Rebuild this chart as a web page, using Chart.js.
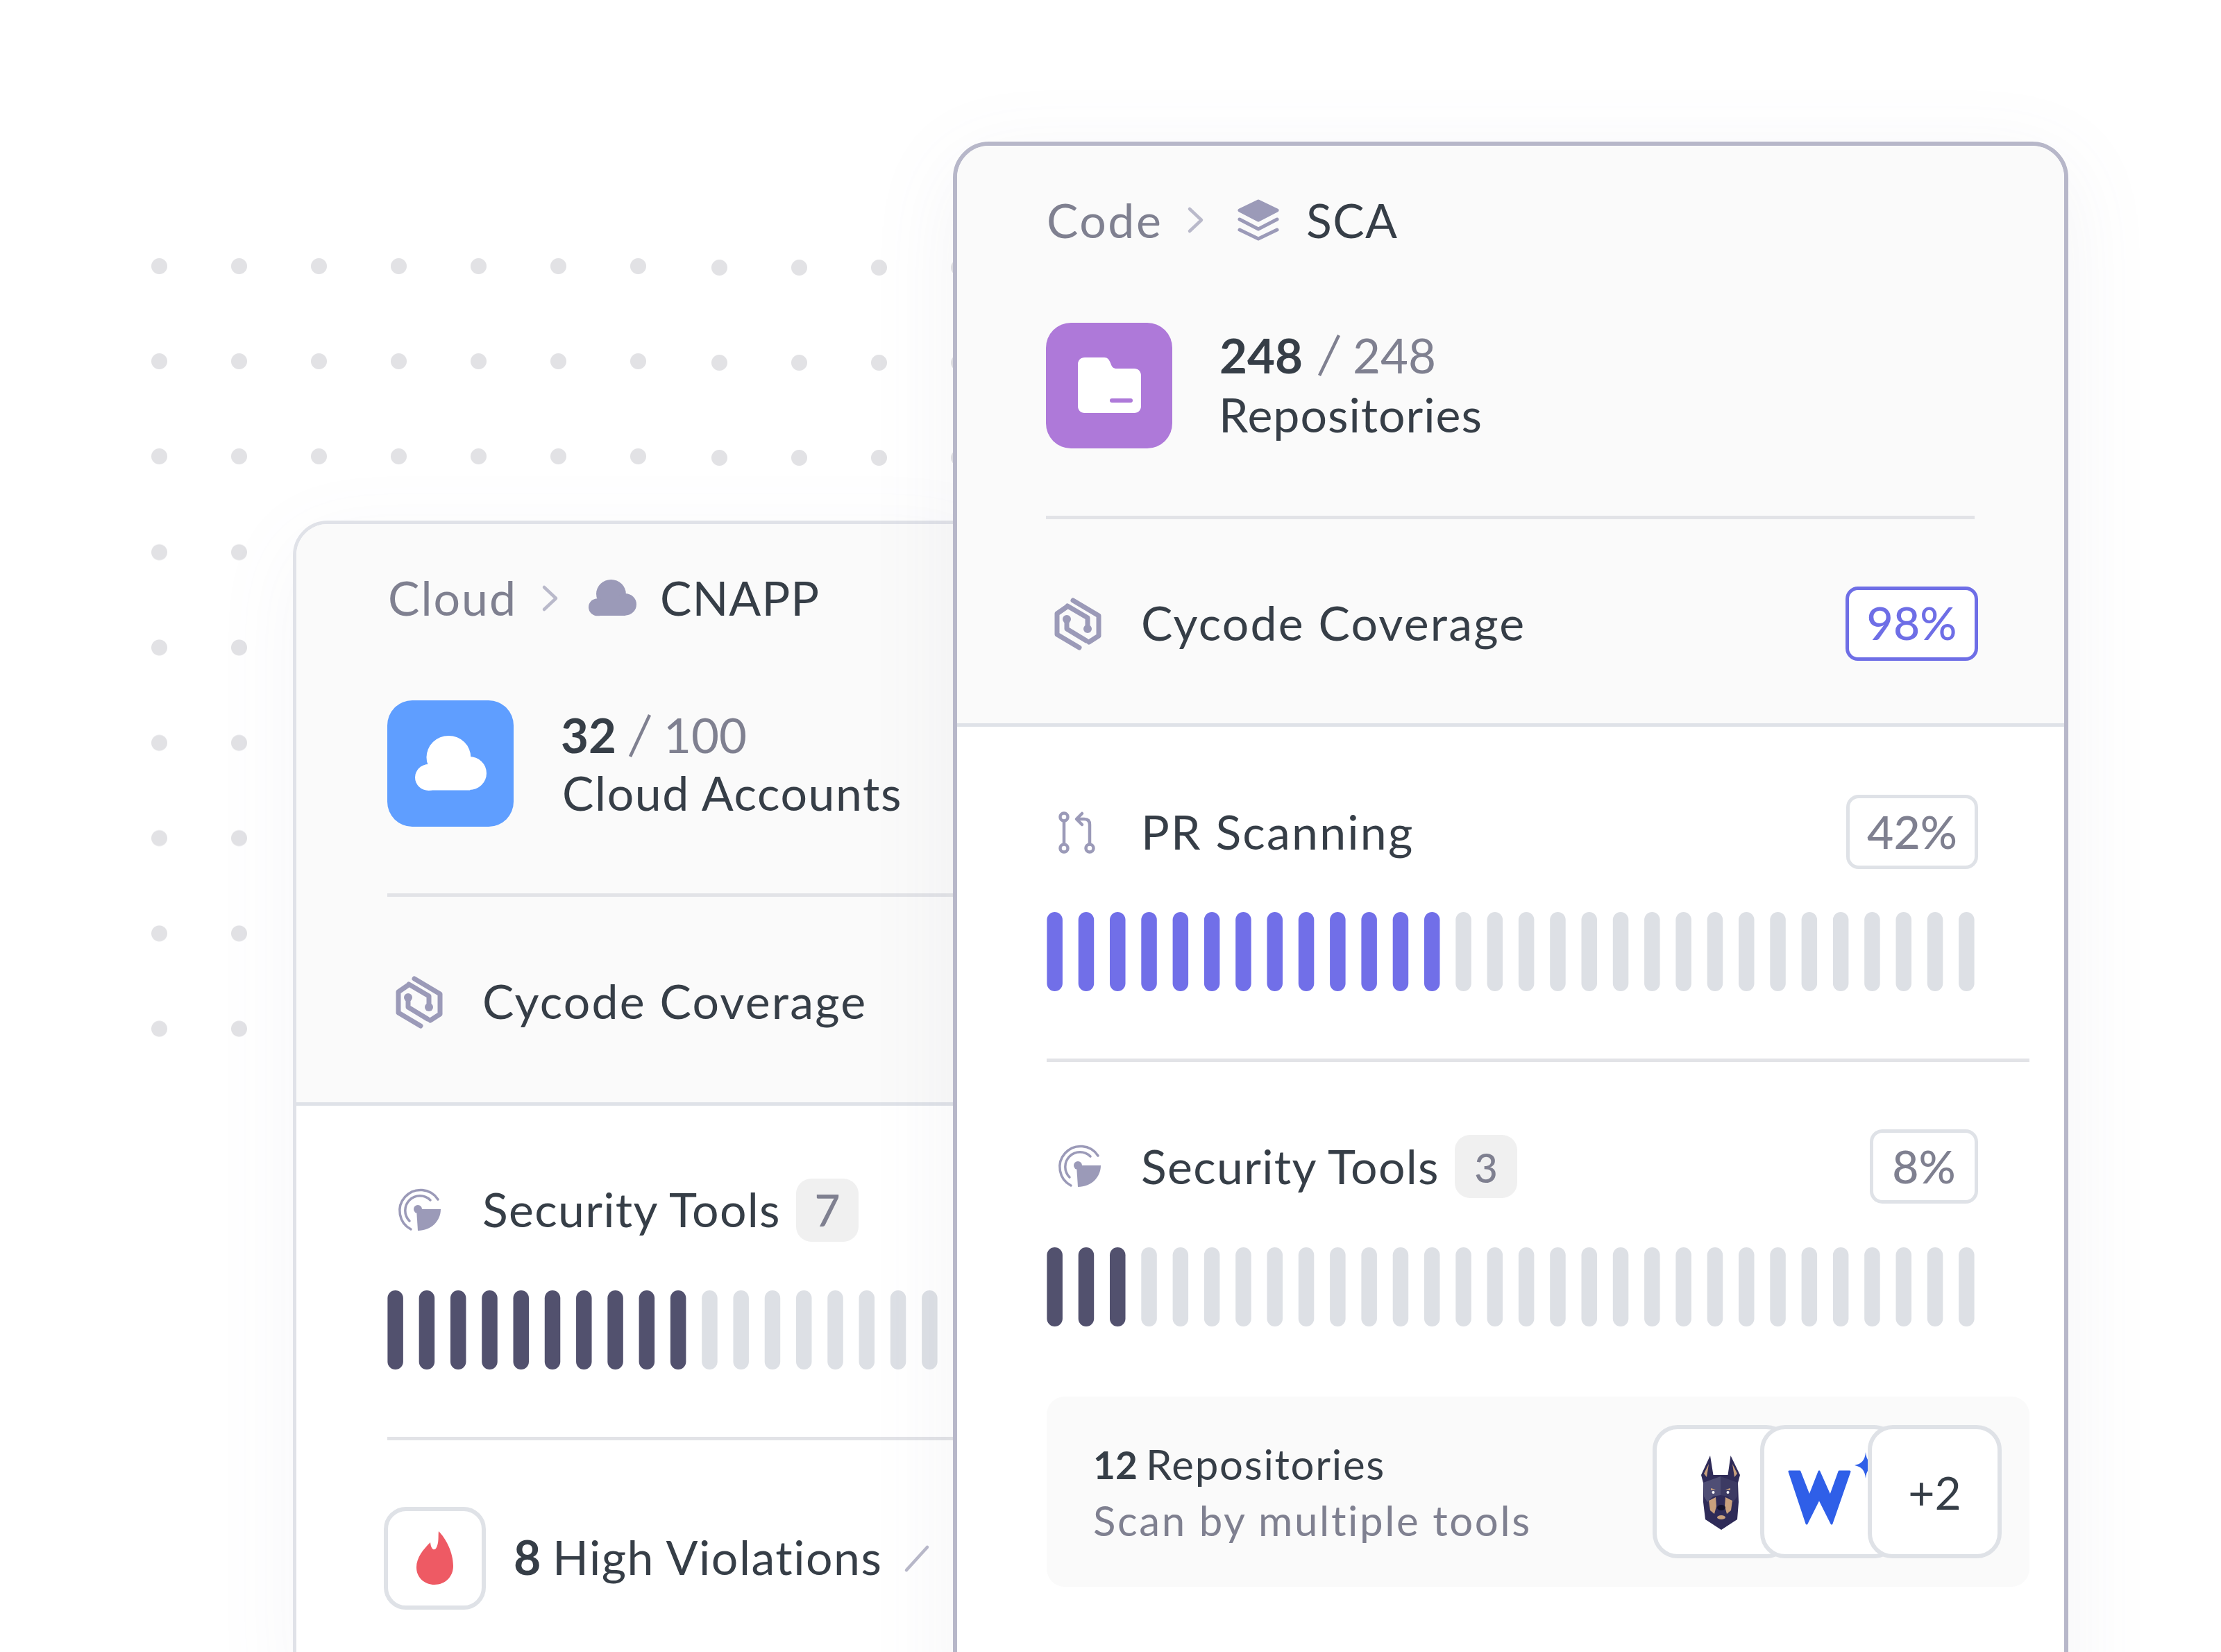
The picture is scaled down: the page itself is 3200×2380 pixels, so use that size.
<!DOCTYPE html>
<html>
<head>
<meta charset="utf-8">
<script src="https://cdn.jsdelivr.net/npm/chart.js@4"></script>
<style>
  html, body { margin: 0; background: #fff; }
  #stage { position: relative; width: 3200px; height: 2380px; overflow: hidden; background: #fff; font-family: Lato, sans-serif; }
  #stage > * { position: absolute; box-sizing: border-box; }
  .label { white-space: pre; line-height: 1; }
  .dots { background-image: radial-gradient(circle at center, #e2e2e5 0, #e2e2e5 11px, transparent 12px); }
</style>
</head>
<body>
<div id="stage"></div>
<script>
// ── values ──
const segments30 = ['1','2','3','4','5','6','7','8','9','10','11','12','13','14','15','16','17','18','19','20','21','22','23','24','25','26','27','28','29','30'];
const segments18 = ['1','2','3','4','5','6','7','8','9','10','11','12','13','14','15','16','17','18'];

const prScanningOn  = [1,1,1,1,1,1,1,1,1,1,1,1,1,0,0,0,0,0,0,0,0,0,0,0,0,0,0,0,0,0];
const prScanningOff = [0,0,0,0,0,0,0,0,0,0,0,0,0,1,1,1,1,1,1,1,1,1,1,1,1,1,1,1,1,1];
const scaToolsOn    = [1,1,1,0,0,0,0,0,0,0,0,0,0,0,0,0,0,0,0,0,0,0,0,0,0,0,0,0,0,0];
const scaToolsOff   = [0,0,0,1,1,1,1,1,1,1,1,1,1,1,1,1,1,1,1,1,1,1,1,1,1,1,1,1,1,1];
const cnappToolsOn  = [1,1,1,1,1,1,1,1,1,1,0,0,0,0,0,0,0,0];
const cnappToolsOff = [0,0,0,0,0,0,0,0,0,0,1,1,1,1,1,1,1,1];

const DARK = '#363e47', GREY = '#7f8090', ICON = '#9b9ab8', CHEVRON = '#b9b9ca', LINE = '#e2e3e7', BOX = '#dfe2e7';
const stage = document.getElementById('stage');

function box(x, y, w, h, css) {
    const d = document.createElement('div');
    d.style.cssText = `left:${x}px;top:${y}px;width:${w}px;height:${h}px;${css || ''}`;
    stage.appendChild(d);
    return d;
}

// x = left edge of the text, base = its baseline, ls = letter spacing (Lato runs narrower than the original face)
function label(str, x, base, size, color, weight, ls) {
    const d = document.createElement('div');
    d.className = 'label';
    d.textContent = str;
    d.style.cssText = `left:${x}px;top:${base + 2 - size * 0.887}px;font-size:${size}px;color:${color};font-weight:${weight || 400};letter-spacing:${ls || 0}px;`;
    stage.appendChild(d);
    return d;
}

function centered(str, x, w, base, size, color, weight) {
    const d = label(str, x, base, size, color, weight);
    d.style.width = w + 'px';
    d.style.textAlign = 'center';
}

function icon(x, y, w, h, body) {
    const d = box(x, y, w, h);
    d.innerHTML = `<svg xmlns="http://www.w3.org/2000/svg" width="${w}" height="${h}" viewBox="0 0 ${w} ${h}" style="display:block;overflow:visible">${body}</svg>`;
}

// one row of segmented progress, drawn as a stacked bar chart
function segmentChart(x, y, labels, on, off, color) {
    const pitch = 45.3, thick = 22.5, h = 114;
    const c = document.createElement('canvas');
    const w = Math.round(pitch * labels.length);
    c.width = w; c.height = h;
    c.style.cssText = `left:${x - (pitch - thick) / 2}px;top:${y}px;width:${w}px;height:${h}px;`;
    stage.appendChild(c);
    const seg = { borderRadius: 11.5, borderSkipped: false, inflateAmount: 0, barPercentage: thick / pitch, categoryPercentage: 1 };
    new Chart(c.getContext('2d'), {
        type: 'bar',
        data: {
            labels: labels,
            datasets: [
                { label: 'done', data: on, backgroundColor: color, ...seg },
                { label: 'rest', data: off, backgroundColor: '#dde0e5', ...seg }
            ]
        },
        options: {
            responsive: false, animation: false,
            layout: { padding: 0 },
            plugins: { legend: { display: false }, tooltip: { enabled: false } },
            scales: {
                x: { display: false, stacked: true },
                y: { display: false, stacked: true, min: 0, max: 1 }
            }
        }
    });
}

function chevron(x, y) {
    icon(x, y, 23, 38, `<path d="M3 3 L20 19 L3 35" fill="none" stroke="${CHEVRON}" stroke-width="4.5" stroke-linecap="round" stroke-linejoin="round"/>`);
}
function cycodeIcon(x, y) {
    icon(x, y, 68, 76, `<g fill="none" stroke="${ICON}" stroke-width="7" stroke-linejoin="round" stroke-linecap="round">
        <path d="M27 4 L64 26 V55 L50 64"/><path d="M36 72 L4 53 V23 L17 14"/>
        <path d="M18 32 V45 L46 62"/><path d="M48 44 V29 L19 12"/></g>
        <circle cx="18" cy="31" r="6" fill="${ICON}"/><circle cx="48" cy="45" r="6" fill="${ICON}"/>`);
}
function toolsIcon(x, y) {
    icon(x, y, 62, 62, `<g fill="none" stroke="${ICON}" stroke-width="3.5" stroke-linecap="round">
        <path d="M19 59 A30 30 0 1 1 58 16"/><path d="M17 47 A21 21 0 1 1 47 17"/></g>
        <circle cx="29" cy="30" r="6" fill="${ICON}"/>
        <path d="M27 30 H62 C62 47 48 61 29 61 Z" fill="${ICON}"/>`);
}
function cloudIcon(x, y, w, h, color) {
    // drawn on a 100x80 grid and stretched to the box
    icon(x, y, w, h, `<g transform="scale(${w / 100} ${h / 80})" fill="${color}">
        <circle cx="47" cy="31" r="31"/><circle cx="19" cy="60" r="19"/><circle cx="76" cy="54" r="24"/>
        <rect x="19" y="45" width="58" height="33.5"/></g>`);
}

// ── dotted backdrop ──
box(171.5, 315, 805, 412, 'background-size:115px 137px;background-position:0 0;').className = 'dots';
box(978.5, 317, 460, 412, 'background-size:115px 137px;').className = 'dots';
box(171.5, 727, 230, 824, 'background-size:115px 137.3px;').className = 'dots';

// ── back card: CNAPP ──
box(422, 750, 1000, 1700, 'background:#fff;border:5px solid #e0e2e8;border-radius:50px;box-shadow:0 30px 130px rgba(120,120,150,.06);');
box(427, 755, 990, 838, 'background:#fafafa;border-bottom:5px solid #dfe2e8;border-radius:45px 0 0 0;');

label('Cloud', 559, 885, 68, GREY, 400, 2);
chevron(781, 843);
cloudIcon(848, 835, 69, 53, ICON);
label('CNAPP', 951, 885, 68, DARK, 400, 1);

box(558, 1009, 182, 182, 'background:#5f9eff;border-radius:36px;');
cloudIcon(598, 1060, 103, 80, '#fff');
label('32', 808, 1083, 69, DARK, 700);
icon(906, 1028, 32, 64, `<path d="M30 2 L2 62" stroke="${GREY}" stroke-width="4.5"/>`);
label('100', 956, 1083, 69, GREY);
label('Cloud Accounts', 810, 1166, 68, DARK, 400, 1.6);
box(558, 1287, 830, 5, `background:${LINE};`);

cycodeIcon(570, 1406);
label('Cycode Coverage', 695, 1466, 68, DARK, 400, 2.2);

toolsIcon(573, 1712);
label('Security Tools', 695, 1766, 68, DARK, 400, 1.3);
box(1147, 1698, 90, 91, 'background:#f0f0f0;border-radius:22px;');
centered('7', 1147, 90, 1766, 64, GREY, 500);
segmentChart(558, 1859, segments18, cnappToolsOn, cnappToolsOff, '#52516e');
box(558, 2070, 830, 5, `background:${LINE};`);

box(553, 2171, 147, 148, `background:#fff;border:6px solid ${BOX};border-radius:32px;`);
icon(600, 2206, 53, 77, `<path d="M32 0 C31 8 33 17 28 25 C25 28 21 26 20 16 C10 26 0 38 0 52 C0 67 12 77 26 77 C41 77 53 66 53 50 C53 30 42 10 32 0 Z" fill="#ee5a64"/>`);
label('8', 740, 2267, 68, DARK, 700);
label('High Violations', 796, 2267, 68, DARK, 400, 1.5);
icon(1303, 2226, 36, 39, `<path d="M33 3 L3 36" stroke="${CHEVRON}" stroke-width="4.5" stroke-linecap="round"/>`);

// ── front card: SCA ──
box(1373, 204, 1607, 2300, 'background:#fff;border:6px solid #b7b7c9;border-radius:52px;box-shadow:0 30px 130px rgba(110,110,140,.08);');
box(1379, 210, 1595, 837, 'background:#fafafa;border-bottom:5px solid #dfe2e8;border-radius:46px 46px 0 0;');

label('Code', 1508, 341, 68, GREY, 400, 2.5);
chevron(1711, 298);
icon(1783, 287, 60, 60, `<path d="M30 3 L57 16 L30 30 L3 16 Z" fill="${ICON}" stroke="${ICON}" stroke-width="5" stroke-linejoin="round"/>
    <g fill="none" stroke="${ICON}" stroke-width="5" stroke-linecap="round" stroke-linejoin="round"><path d="M3 29 L30 43 L57 29"/><path d="M3 44 L30 57 L57 44"/></g>`);
label('SCA', 1882, 341, 68, DARK, 400, 1.3);

box(1507, 465, 182, 181, 'background:#ae79d9;border-radius:36px;');
icon(1553, 515, 91, 80, `<path d="M10 0 H38 C43 0 45 3 47 8 C49 14 51 16 56 16 H81 C87 16 91 20 91 26 V70 C91 76 87 80 81 80 H10 C4 80 0 76 0 70 V10 C0 4 4 0 10 0 Z" fill="#fff"/><rect x="46" y="59" width="33" height="6" rx="3" fill="#ae79d9"/>`);
label('248', 1757, 536, 69, DARK, 700);
icon(1899, 481, 32, 62, `<path d="M30 2 L2 60" stroke="${GREY}" stroke-width="4.5"/>`);
label('248', 1949, 536, 69, GREY);
label('Repositories', 1756, 621, 68, DARK, 400, 1);
box(1507, 743, 1338, 5, `background:${LINE};`);

cycodeIcon(1519, 861);
label('Cycode Coverage', 1644, 921, 68, DARK, 400, 2.2);
box(2659, 845, 191, 107, 'background:#fff;border:5px solid #6e6ee6;border-radius:18px;');
centered('98%', 2659, 191, 921, 66, '#6e6ee6', 500);

icon(1525, 1169, 54, 60, `<g fill="none" stroke="${ICON}" stroke-width="4.5" stroke-linecap="round" stroke-linejoin="round">
    <circle cx="8" cy="8" r="5.5"/><path d="M8 14 V46"/><circle cx="8" cy="53" r="5.5"/><circle cx="45" cy="53" r="5.5"/>
    <path d="M45 47 V19 Q45 11 37 11 H27"/><path d="M34 3 L26 11 L34 19"/></g>`);
label('PR Scanning', 1644, 1222, 68, DARK, 400, 2.2);
box(2660, 1145, 190, 107, `background:#fff;border:5px solid ${BOX};border-radius:18px;`);
centered('42%', 2660, 190, 1222, 66, GREY, 500);
segmentChart(1508, 1314, segments30, prScanningOn, prScanningOff, '#716fe8');
box(1508, 1525, 1416, 5, `background:${LINE};`);

toolsIcon(1524, 1649);
label('Security Tools', 1644, 1704, 68, DARK, 400, 1.3);
box(2096, 1635, 90, 91, 'background:#f0f0f0;border-radius:22px;');
centered('3', 2096, 90, 1702, 58, GREY, 500);
box(2694, 1627, 156, 107, `background:#fff;border:5px solid ${BOX};border-radius:18px;`);
centered('8%', 2694, 156, 1704, 66, GREY, 500);
segmentChart(1508, 1797, segments30, scaToolsOn, scaToolsOff, '#52516e');

box(1508, 2012, 1416, 274, 'background:#fafafa;border-radius:26px;');
label('12', 1575, 2130, 55, DARK, 700);
label('Repositories', 1651, 2130, 60, DARK, 400, 1.7);
label('Scan by multiple tools', 1575, 2211, 60, GREY, 400, 2.6);

const tile = `background:#fff;border:6px solid ${BOX};border-radius:36px;`;
box(2381, 2053, 200, 192, tile);
icon(2450, 2096, 57, 108, `<path d="M14 1 L18.5 29 H39.5 L43.5 1 L57 29 L54 40.5 L55 68 L53 93 L30 108 L7 93 L4 68 L4 40.5 L1 29 Z" fill="#2f2b58"/>
    <path d="M4 40 L29 31 V58 L18 60 L10 68 L5 60 Z" fill="#4f4e75"/>
    <path d="M54 40 L29 31 V58 L40 60 L47 68 L53 60 Z" fill="#3c3a63"/>
    <path d="M12 13 L9 32 L5 27 Z M46 13 L49 32 L53 27 Z" fill="#c9a07d"/>
    <path d="M12 66 L22 61 L23 74 L20 85 L14 80 Z M46 66 L36 61 L35 74 L38 85 L44 80 Z" fill="#c9a07d"/>
    <path d="M15 48 L22 50 L15 51 Z M43 48 L36 50 L43 51 Z" fill="#c9a07d"/>
    <circle cx="18.5" cy="54" r="2" fill="#fff"/><circle cx="39.5" cy="54" r="2" fill="#fff"/>
    <ellipse cx="30" cy="76" rx="6" ry="4" fill="#14122e"/><ellipse cx="30" cy="90" rx="6" ry="3" fill="#c9a07d"/>`);
box(2536, 2053, 200, 192, tile);
icon(2576, 2118, 91, 79, `<path d="M2 2 H17 L31 38 L45 2 L61 38 L74 2 H89 L63 77 L45 41 L27 77 Z" fill="#2f5fe8" stroke="#2f5fe8" stroke-width="3" stroke-linejoin="round"/>`);
icon(2672, 2092, 32, 38, `<path d="M16 0 C17 12 22 17 32 19 C22 21 17 26 16 38 C15 26 10 21 0 19 C10 17 15 12 16 0 Z" fill="#2f5fe8"/>`);
box(2691, 2053, 193, 192, tile);
centered('+2', 2691, 193, 2174, 66, DARK);
</script>
</body>
</html>
